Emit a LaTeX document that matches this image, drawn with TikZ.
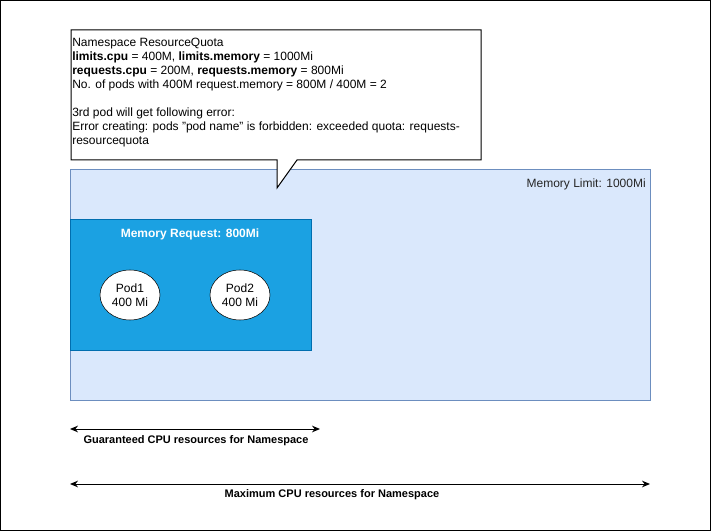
\documentclass[tikz,border=0pt]{standalone}
\usepackage{fontspec}
\setmainfont{Liberation Sans}
\usetikzlibrary{arrows.meta,shapes.geometric}
\definecolor{limfill}{HTML}{DAE8FC}
\definecolor{limdraw}{HTML}{6C8EBF}
\definecolor{reqfill}{HTML}{1BA1E2}
\definecolor{reqdraw}{HTML}{006EAF}
\tikzset{
  px/.style={x=0.75pt,y=-0.75pt},
  podnode/.style={ellipse,draw=black,fill=white,minimum width=45pt,minimum height=37.5pt,inner sep=0pt,align=center,font=\fontsize{9}{10.5}\selectfont},
  dimarrow/.style={draw=black,line width=0.75pt,{Stealth[length=6pt,width=5pt]}-{Stealth[length=6pt,width=5pt]}},
  dimlabel/.style={font=\fontsize{8.25}{9.5}\selectfont\bfseries,inner sep=0pt}
}
\begin{document}
\begin{tikzpicture}[px]
\useasboundingbox (0,0) rectangle (711,531);
\draw[black,line width=0.75pt] (0.5,0.5) rectangle (710.5,530.5);
% memory limit
\draw[fill=limfill,draw=limdraw,line width=0.75pt] (70,170) rectangle (650,400);
\node[anchor=east,inner sep=0pt,font=\fontsize{9}{10.5}\selectfont,text=black!85] (limlbl) at (646,184) {Memory Limit: 1000Mi};
% memory request
\draw[fill=reqfill,draw=reqdraw,line width=0.75pt] (70,220) rectangle (311,350);
\node[inner sep=0pt,font=\fontsize{9}{10.5}\selectfont\bfseries,text=white] (reqlbl) at (190,234) {Memory Request: 800Mi};
\node[podnode] (pod1) at (130,295) {Pod1\\400 Mi};
\node[podnode] (pod2) at (240,295) {Pod2\\400 Mi};
% callout
\draw[fill=white,draw=black,line width=0.75pt,line join=miter] (71,30) -- (481,30) -- (481,160) -- (297,160) -- (277,188) -- (277,160) -- (71,160) -- cycle;
\node[anchor=north west,inner sep=0pt,align=left,font=\fontsize{9}{10.5}\selectfont] (quota) at (72,38) {Namespace ResourceQuota\\
\textbf{limits.cpu} = 400M, \textbf{limits.memory} = 1000Mi\\
\textbf{requests.cpu} = 200M, \textbf{requests.memory} = 800Mi\\
No. of pods with 400M request.memory = 800M / 400M = 2\\
\mbox{}\\
3rd pod will get following error:\\
Error creating: pods "pod name" is forbidden: exceeded quota: requests-\\
resourcequota};
% arrows
\coordinate (g1) at (70,429);
\coordinate (g2) at (320,429);
\draw[dimarrow] (g1) -- (g2);
\node[dimlabel] (glbl) at (196,441) {Guaranteed CPU resources for Namespace};
\coordinate (m1) at (70,484);
\coordinate (m2) at (650,484);
\draw[dimarrow] (m1) -- (m2);
\node[dimlabel] (mlbl) at (332,495) {Maximum CPU resources for Namespace};
\end{tikzpicture}
\end{document}
